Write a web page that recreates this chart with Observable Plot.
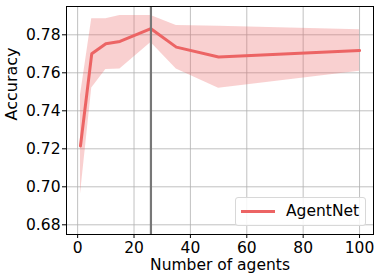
<!DOCTYPE html>
<html>
<head>
<meta charset="utf-8">
<script src="https://cdn.jsdelivr.net/npm/d3@7"></script>
<script src="https://cdn.jsdelivr.net/npm/@observablehq/plot@0.6"></script>
<style>
  html, body { margin: 0; padding: 0; background: #fff; }
  #wrap { position: relative; width: 381px; height: 280px; font-family: "DejaVu Sans", sans-serif; }
  #legend { position: absolute; left: 235px; top: 197px; width: 131px; height: 29px; box-sizing: border-box;
    border: 1px solid #d8d8d8; border-radius: 3px; background: rgba(255,255,255,0.85);
    font-family: "DejaVu Sans", sans-serif; font-size: 15.5px; color: #000; }
  #legend .sw { position: absolute; left: 5px; top: 12px; width: 34px; height: 3px; background: #ec6464; }
  #legend .tx { position: absolute; left: 50px; top: 4px; line-height: 18px; }
</style>
</head>
<body>
<div id="wrap"><div id="legend"><div class="sw"></div><div class="tx">AgentNet</div></div></div>
<script>
const agents = [1, 5, 10, 15, 26, 35, 50, 100];
const accuracy = [0.7215, 0.7700, 0.7753, 0.7765, 0.7832, 0.7735, 0.7683, 0.7717];
const upper = [0.7480, 0.7884, 0.7884, 0.7902, 0.7902, 0.7849, 0.7845, 0.7826];
const lower = [0.6960, 0.7520, 0.7617, 0.7620, 0.7760, 0.7620, 0.7519, 0.7608];
const xTicks = [0, 20, 40, 60, 80, 100];
const yTicks = [0.68, 0.70, 0.72, 0.74, 0.76, 0.78];
const bestAgents = 26;
const seriesName = "AgentNet";

const data = agents.map((a, i) => ({agents: a, acc: accuracy[i], lo: lower[i], hi: upper[i]}));
const lineColor = "#ec6464";

const chart = Plot.plot({
  width: 381,
  height: 280,
  marginLeft: 66,
  marginRight: 8,
  marginTop: 6,
  marginBottom: 46,
  style: {fontFamily: "DejaVu Sans, sans-serif", background: "white", color: "black"},
  x: {domain: [-3.95, 104.95]},
  y: {domain: [0.6749, 0.7949]},
  marks: [
    Plot.gridX(xTicks, {stroke: "#b0b0b0", strokeOpacity: 0.8, strokeWidth: 1}),
    Plot.gridY(yTicks, {stroke: "#b0b0b0", strokeOpacity: 0.8, strokeWidth: 1}),
    Plot.areaY(data, {x: "agents", y1: "lo", y2: "hi", fill: lineColor, fillOpacity: 0.3}),
    Plot.lineY(data, {x: "agents", y: "acc", stroke: lineColor, strokeWidth: 3}),
    Plot.ruleX([bestAgents], {stroke: "#777777", strokeWidth: 2.2}),
    Plot.frame({stroke: "black", strokeWidth: 1}),
    Plot.axisX(xTicks, {tickSize: 4, tickPadding: 3, fontSize: 15.5, label: null, stroke: "black"}),
    Plot.axisY(yTicks, {tickSize: 4, tickPadding: 2, fontSize: 15.5, label: null, tickFormat: d3.format(".2f"), stroke: "black"}),
    Plot.text(["Number of agents"], {frameAnchor: "bottom", dy: 35, lineAnchor: "bottom", fontSize: 15.5, fill: "black"}),
    Plot.text(["Accuracy"], {frameAnchor: "left", dx: -50, rotate: -90, lineAnchor: "bottom", fontSize: 16, fill: "black"})
  ]
});
document.getElementById("wrap").prepend(chart);
chart.style.position = "absolute";
chart.style.left = "0";
chart.style.top = "0";
</script>
</body>
</html>
